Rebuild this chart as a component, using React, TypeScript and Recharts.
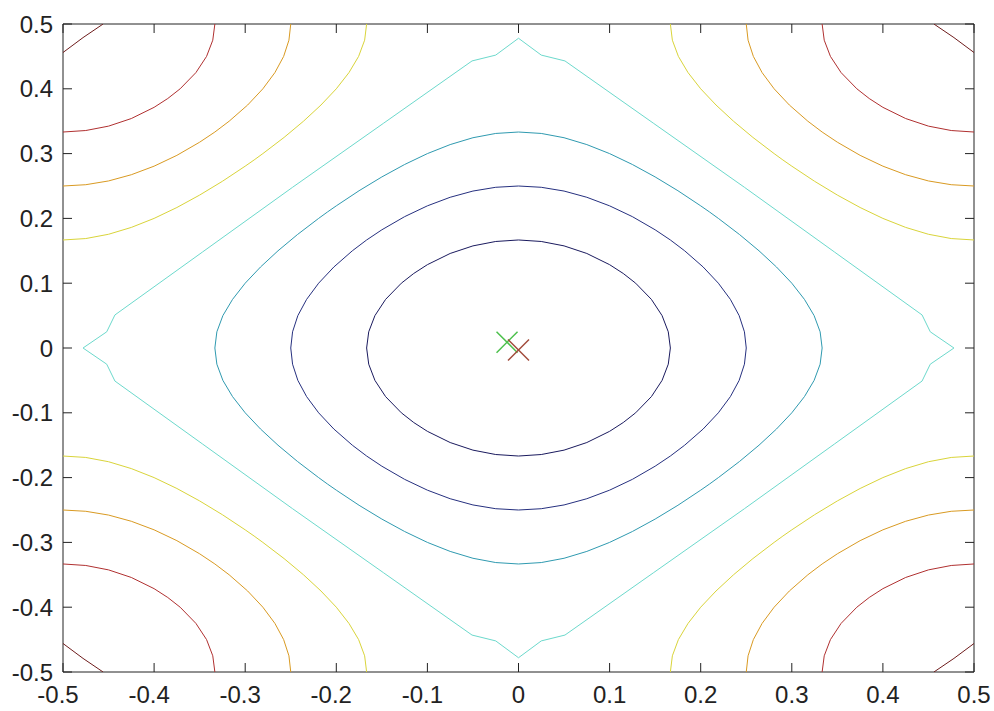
import React from 'react';
import { ScatterChart, Scatter, XAxis, YAxis } from 'recharts';

type P = [number, number];

const xTicks = [-0.5, -0.4, -0.3, -0.2, -0.1, 0, 0.1, 0.2, 0.3, 0.4, 0.5];
const yTicks = [-0.5, -0.4, -0.3, -0.2, -0.1, 0, 0.1, 0.2, 0.3, 0.4, 0.5];

// closed contours around the centre (innermost first)
const ring1: P[] = [
  [0.1667, 0], [0.1644, 0.025], [0.1576, 0.05], [0.1459, 0.075], [0.1286, 0.1], [0.115, 0.115], [0.1, 0.1286], [0.075, 0.1459], [0.05, 0.1576], [0.025, 0.1644], [0, 0.1667],
  [-0.025, 0.1644], [-0.05, 0.1576], [-0.075, 0.1459], [-0.1, 0.1286], [-0.115, 0.115], [-0.1286, 0.1], [-0.1459, 0.075], [-0.1576, 0.05], [-0.1644, 0.025], [-0.1667, 0],
  [-0.1644, -0.025], [-0.1576, -0.05], [-0.1459, -0.075], [-0.1286, -0.1], [-0.115, -0.115], [-0.1, -0.1286], [-0.075, -0.1459], [-0.05, -0.1576], [-0.025, -0.1644], [0, -0.1667],
  [0.025, -0.1644], [0.05, -0.1576], [0.075, -0.1459], [0.1, -0.1286], [0.115, -0.115], [0.1286, -0.1], [0.1459, -0.075], [0.1576, -0.05], [0.1644, -0.025], [0.1667, 0],
];

const ring2: P[] = [
  [0.25, 0], [0.248, 0.025], [0.2422, 0.05], [0.2326, 0.075], [0.2194, 0.1], [0.2027, 0.125], [0.1824, 0.15], [0.1667, 0.1667], [0.15, 0.1824], [0.125, 0.2027], [0.1, 0.2194], [0.075, 0.2326], [0.05, 0.2422], [0.025, 0.248], [0, 0.25],
  [-0.025, 0.248], [-0.05, 0.2422], [-0.075, 0.2326], [-0.1, 0.2194], [-0.125, 0.2027], [-0.15, 0.1824], [-0.1667, 0.1667], [-0.1824, 0.15], [-0.2027, 0.125], [-0.2194, 0.1], [-0.2326, 0.075], [-0.2422, 0.05], [-0.248, 0.025], [-0.25, 0],
  [-0.248, -0.025], [-0.2422, -0.05], [-0.2326, -0.075], [-0.2194, -0.1], [-0.2027, -0.125], [-0.1824, -0.15], [-0.1667, -0.1667], [-0.15, -0.1824], [-0.125, -0.2027], [-0.1, -0.2194], [-0.075, -0.2326], [-0.05, -0.2422], [-0.025, -0.248], [0, -0.25],
  [0.025, -0.248], [0.05, -0.2422], [0.075, -0.2326], [0.1, -0.2194], [0.125, -0.2027], [0.15, -0.1824], [0.1667, -0.1667], [0.1824, -0.15], [0.2027, -0.125], [0.2194, -0.1], [0.2326, -0.075], [0.2422, -0.05], [0.248, -0.025], [0.25, 0],
];

const ring3: P[] = [
  [0.3333, 0], [0.3311, 0.025], [0.3245, 0.05], [0.3139, 0.075], [0.3, 0.1], [0.2832, 0.125], [0.264, 0.15], [0.2427, 0.175], [0.2194, 0.2], [0.2098, 0.2098], [0.2, 0.2194], [0.175, 0.2427], [0.15, 0.264], [0.125, 0.2832], [0.1, 0.3], [0.075, 0.3139], [0.05, 0.3245], [0.025, 0.3311], [0, 0.3333],
  [-0.025, 0.3311], [-0.05, 0.3245], [-0.075, 0.3139], [-0.1, 0.3], [-0.125, 0.2832], [-0.15, 0.264], [-0.175, 0.2427], [-0.2, 0.2194], [-0.2098, 0.2098], [-0.2194, 0.2], [-0.2427, 0.175], [-0.264, 0.15], [-0.2832, 0.125], [-0.3, 0.1], [-0.3139, 0.075], [-0.3245, 0.05], [-0.3311, 0.025], [-0.3333, 0],
  [-0.3311, -0.025], [-0.3245, -0.05], [-0.3139, -0.075], [-0.3, -0.1], [-0.2832, -0.125], [-0.264, -0.15], [-0.2427, -0.175], [-0.2194, -0.2], [-0.2098, -0.2098], [-0.2, -0.2194], [-0.175, -0.2427], [-0.15, -0.264], [-0.125, -0.2832], [-0.1, -0.3], [-0.075, -0.3139], [-0.05, -0.3245], [-0.025, -0.3311], [0, -0.3333],
  [0.025, -0.3311], [0.05, -0.3245], [0.075, -0.3139], [0.1, -0.3], [0.125, -0.2832], [0.15, -0.264], [0.175, -0.2427], [0.2, -0.2194], [0.2098, -0.2098], [0.2194, -0.2], [0.2427, -0.175], [0.264, -0.15], [0.2832, -0.125], [0.3, -0.1], [0.3139, -0.075], [0.3245, -0.05], [0.3311, -0.025], [0.3333, 0],
];

const ring4: P[] = [
  [0.478, 0], [0.452, 0.025], [0.443, 0.051], [0.347, 0.148], [0.248, 0.248], [0.148, 0.347], [0.051, 0.443], [0.025, 0.452], [0, 0.478],
  [-0.025, 0.452], [-0.051, 0.443], [-0.148, 0.347], [-0.248, 0.248], [-0.347, 0.148], [-0.443, 0.051], [-0.452, 0.025], [-0.478, 0],
  [-0.452, -0.025], [-0.443, -0.051], [-0.347, -0.148], [-0.248, -0.248], [-0.148, -0.347], [-0.051, -0.443], [-0.025, -0.452], [0, -0.478],
  [0.025, -0.452], [0.051, -0.443], [0.148, -0.347], [0.248, -0.248], [0.347, -0.148], [0.443, -0.051], [0.452, -0.025], [0.478, 0],
];

// corner arcs: yellow
const yellowTR: P[] = [[0.1667, 0.5], [0.1689, 0.475], [0.1755, 0.45], [0.1861, 0.425], [0.2, 0.4], [0.2168, 0.375], [0.236, 0.35], [0.2573, 0.325], [0.2806, 0.3], [0.2902, 0.2902], [0.3, 0.2806], [0.325, 0.2573], [0.35, 0.236], [0.375, 0.2168], [0.4, 0.2], [0.425, 0.1861], [0.45, 0.1755], [0.475, 0.1689], [0.5, 0.1667]];
const yellowTL: P[] = [[-0.1667, 0.5], [-0.1689, 0.475], [-0.1755, 0.45], [-0.1861, 0.425], [-0.2, 0.4], [-0.2168, 0.375], [-0.236, 0.35], [-0.2573, 0.325], [-0.2806, 0.3], [-0.2902, 0.2902], [-0.3, 0.2806], [-0.325, 0.2573], [-0.35, 0.236], [-0.375, 0.2168], [-0.4, 0.2], [-0.425, 0.1861], [-0.45, 0.1755], [-0.475, 0.1689], [-0.5, 0.1667]];
const yellowBL: P[] = [[-0.1667, -0.5], [-0.1689, -0.475], [-0.1755, -0.45], [-0.1861, -0.425], [-0.2, -0.4], [-0.2168, -0.375], [-0.236, -0.35], [-0.2573, -0.325], [-0.2806, -0.3], [-0.2902, -0.2902], [-0.3, -0.2806], [-0.325, -0.2573], [-0.35, -0.236], [-0.375, -0.2168], [-0.4, -0.2], [-0.425, -0.1861], [-0.45, -0.1755], [-0.475, -0.1689], [-0.5, -0.1667]];
const yellowBR: P[] = [[0.1667, -0.5], [0.1689, -0.475], [0.1755, -0.45], [0.1861, -0.425], [0.2, -0.4], [0.2168, -0.375], [0.236, -0.35], [0.2573, -0.325], [0.2806, -0.3], [0.2902, -0.2902], [0.3, -0.2806], [0.325, -0.2573], [0.35, -0.236], [0.375, -0.2168], [0.4, -0.2], [0.425, -0.1861], [0.45, -0.1755], [0.475, -0.1689], [0.5, -0.1667]];

// orange
const orangeTR: P[] = [[0.25, 0.5], [0.252, 0.475], [0.2578, 0.45], [0.2674, 0.425], [0.2806, 0.4], [0.2973, 0.375], [0.3176, 0.35], [0.3333, 0.3333], [0.35, 0.3176], [0.375, 0.2973], [0.4, 0.2806], [0.425, 0.2674], [0.45, 0.2578], [0.475, 0.252], [0.5, 0.25]];
const orangeTL: P[] = [[-0.25, 0.5], [-0.252, 0.475], [-0.2578, 0.45], [-0.2674, 0.425], [-0.2806, 0.4], [-0.2973, 0.375], [-0.3176, 0.35], [-0.3333, 0.3333], [-0.35, 0.3176], [-0.375, 0.2973], [-0.4, 0.2806], [-0.425, 0.2674], [-0.45, 0.2578], [-0.475, 0.252], [-0.5, 0.25]];
const orangeBL: P[] = [[-0.25, -0.5], [-0.252, -0.475], [-0.2578, -0.45], [-0.2674, -0.425], [-0.2806, -0.4], [-0.2973, -0.375], [-0.3176, -0.35], [-0.3333, -0.3333], [-0.35, -0.3176], [-0.375, -0.2973], [-0.4, -0.2806], [-0.425, -0.2674], [-0.45, -0.2578], [-0.475, -0.252], [-0.5, -0.25]];
const orangeBR: P[] = [[0.25, -0.5], [0.252, -0.475], [0.2578, -0.45], [0.2674, -0.425], [0.2806, -0.4], [0.2973, -0.375], [0.3176, -0.35], [0.3333, -0.3333], [0.35, -0.3176], [0.375, -0.2973], [0.4, -0.2806], [0.425, -0.2674], [0.45, -0.2578], [0.475, -0.252], [0.5, -0.25]];

// red
const redTR: P[] = [[0.3333, 0.5], [0.3356, 0.475], [0.3424, 0.45], [0.3541, 0.425], [0.3714, 0.4], [0.385, 0.385], [0.4, 0.3714], [0.425, 0.3541], [0.45, 0.3424], [0.475, 0.3356], [0.5, 0.3333]];
const redTL: P[] = [[-0.3333, 0.5], [-0.3356, 0.475], [-0.3424, 0.45], [-0.3541, 0.425], [-0.3714, 0.4], [-0.385, 0.385], [-0.4, 0.3714], [-0.425, 0.3541], [-0.45, 0.3424], [-0.475, 0.3356], [-0.5, 0.3333]];
const redBL: P[] = [[-0.3333, -0.5], [-0.3356, -0.475], [-0.3424, -0.45], [-0.3541, -0.425], [-0.3714, -0.4], [-0.385, -0.385], [-0.4, -0.3714], [-0.425, -0.3541], [-0.45, -0.3424], [-0.475, -0.3356], [-0.5, -0.3333]];
const redBR: P[] = [[0.3333, -0.5], [0.3356, -0.475], [0.3424, -0.45], [0.3541, -0.425], [0.3714, -0.4], [0.385, -0.385], [0.4, -0.3714], [0.425, -0.3541], [0.45, -0.3424], [0.475, -0.3356], [0.5, -0.3333]];

// dark red, right in the corners
const maroonTR: P[] = [[0.456, 0.5], [0.478, 0.479], [0.5, 0.456]];
const maroonTL: P[] = [[-0.456, 0.5], [-0.478, 0.479], [-0.5, 0.456]];
const maroonBL: P[] = [[-0.456, -0.5], [-0.478, -0.479], [-0.5, -0.456]];
const maroonBR: P[] = [[0.456, -0.5], [0.478, -0.479], [0.5, -0.456]];

const greenMark: P[] = [[-0.0126, 0.009]];
const redMark: P[] = [[0, -0.003]];

const contours: { pts: P[]; color: string }[] = [
  { pts: ring1, color: '#1a1a5e' },
  { pts: ring2, color: '#26307f' },
  { pts: ring3, color: '#2f9ab0' },
  { pts: ring4, color: '#6cd9cc' },
  { pts: yellowTR, color: '#d9d43a' },
  { pts: yellowTL, color: '#d9d43a' },
  { pts: yellowBL, color: '#d9d43a' },
  { pts: yellowBR, color: '#d9d43a' },
  { pts: orangeTR, color: '#d99a22' },
  { pts: orangeTL, color: '#d99a22' },
  { pts: orangeBL, color: '#d99a22' },
  { pts: orangeBR, color: '#d99a22' },
  { pts: redTR, color: '#b03030' },
  { pts: redTL, color: '#b03030' },
  { pts: redBL, color: '#b03030' },
  { pts: redBR, color: '#b03030' },
  { pts: maroonTR, color: '#6e1c1c' },
  { pts: maroonTL, color: '#6e1c1c' },
  { pts: maroonBL, color: '#6e1c1c' },
  { pts: maroonBR, color: '#6e1c1c' },
];

const toObj = (pts: P[]) => pts.map(([x, y]) => ({ x, y }));

const FONT = '"Liberation Sans", Arial, sans-serif';
const TICK = 9;

const BottomTick = (props: any) => {
  const { x, y, payload } = props;
  const v = payload.value;
  return (
    <g>
      <line x1={x} y1={y} x2={x} y2={y - TICK} stroke="#222" />
      <text x={v < 0 ? x - 5 : x} y={y + 22} dy="0.36em" textAnchor="middle" fontSize={24} fontFamily={FONT} fill="#222">
        {String(v)}
      </text>
    </g>
  );
};

const TopTick = (props: any) => {
  const { x, y } = props;
  return <line x1={x} y1={y} x2={x} y2={y + TICK} stroke="#222" />;
};

const LeftTick = (props: any) => {
  const { x, y, payload } = props;
  return (
    <g>
      <line x1={x} y1={y} x2={x + TICK} y2={y} stroke="#222" />
      <text x={x - 10} y={y} dy="0.36em" textAnchor="end" fontSize={24} fontFamily={FONT} fill="#222">
        {String(payload.value)}
      </text>
    </g>
  );
};

const RightTick = (props: any) => {
  const { x, y } = props;
  return <line x1={x} y1={y} x2={x - TICK} y2={y} stroke="#222" />;
};

const cross = (color: string) => (p: any) => {
  const { cx, cy } = p;
  const r = 10.5;
  return (
    <g stroke={color} strokeWidth={1.5}>
      <line x1={cx - r} y1={cy - r} x2={cx + r} y2={cy + r} />
      <line x1={cx - r} y1={cy + r} x2={cx + r} y2={cy - r} />
    </g>
  );
};

const noDot = () => <g />;

export default function App() {
  return (
    <>
      <style>{'body{margin:8px 0 0 8px}'}</style>
      <ScatterChart width={986} height={703} margin={{ top: 15, right: 19, bottom: 8, left: 0 }}>
        <XAxis
          type="number"
          dataKey="x"
          domain={[-0.5, 0.5]}
          ticks={xTicks}
          interval={0}
          allowDataOverflow
          height={31}
          tickSize={0}
          tickMargin={0}
          tickLine={false}
          axisLine={{ stroke: '#222' }}
          tick={BottomTick}
        />
        <XAxis
          xAxisId="top"
          orientation="top"
          type="number"
          dataKey="x"
          domain={[-0.5, 0.5]}
          ticks={xTicks}
          interval={0}
          allowDataOverflow
          height={1}
          tickSize={0}
          tickMargin={0}
          tickLine={false}
          axisLine={{ stroke: '#222' }}
          tick={TopTick}
        />
        <YAxis
          type="number"
          dataKey="y"
          domain={[-0.5, 0.5]}
          ticks={yTicks}
          interval={0}
          allowDataOverflow
          width={55}
          tickSize={0}
          tickMargin={0}
          tickLine={false}
          axisLine={{ stroke: '#222' }}
          tick={LeftTick}
        />
        <YAxis
          yAxisId="right"
          orientation="right"
          type="number"
          dataKey="y"
          domain={[-0.5, 0.5]}
          ticks={yTicks}
          interval={0}
          allowDataOverflow
          width={1}
          tickSize={0}
          tickMargin={0}
          tickLine={false}
          axisLine={{ stroke: '#222' }}
          tick={RightTick}
        />
        {contours.map((c, i) => (
          <Scatter
            key={`c-${i}`}
            data={toObj(c.pts)}
            line={{ stroke: c.color, strokeWidth: 1 }}
            shape={noDot}
            isAnimationActive={false}
          />
        ))}
        <Scatter data={toObj(greenMark)} shape={cross('#4cc04c')} isAnimationActive={false} />
        <Scatter data={toObj(redMark)} shape={cross('#a04838')} isAnimationActive={false} />
      </ScatterChart>
    </>
  );
}
